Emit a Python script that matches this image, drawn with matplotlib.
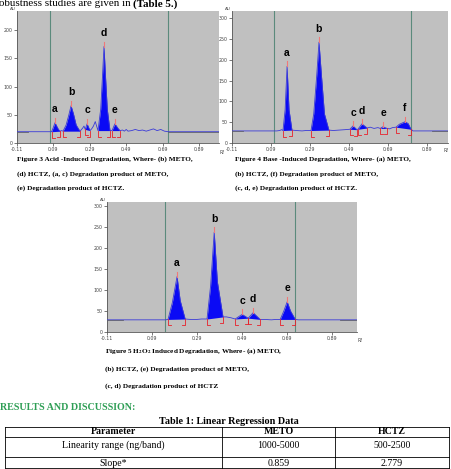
import numpy as np
import matplotlib
matplotlib.use('Agg')
import matplotlib.pyplot as plt

plt.rcParams['mathtext.fontset'] = 'stix'

# ---- data (Rf, AU) ----
x_ticks = [-0.11, 0.09, 0.29, 0.49, 0.69, 0.89]
x_tick_labels = ['-0.11', '0.09', '0.29', '0.49', '0.69', '0.89']

# Figure 3: acid degradation
f3_trace_x = [-0.11, -0.05, 0.07, 0.08, 0.09, 0.099, 0.108, 0.118, 0.127, 0.135, 0.143,
              0.16, 0.175, 0.187, 0.2, 0.215, 0.236, 0.25, 0.258, 0.265, 0.275, 0.291,
              0.3, 0.31, 0.32, 0.335, 0.35, 0.36, 0.368, 0.376, 0.386, 0.401, 0.412,
              0.428, 0.445, 0.456, 0.47, 0.48, 0.49, 0.5, 0.52, 0.54, 0.56, 0.58, 0.6,
              0.62, 0.64, 0.66, 0.68, 0.7, 0.72, 0.92, 1.0]
f3_trace_y = [20, 20, 20, 20, 28, 36, 30, 24, 21, 22, 21,
              32, 50, 66, 52, 32, 21, 26, 30, 24, 34, 22,
              25, 30, 38, 22, 60, 120, 171, 120, 60, 22, 22,
              34, 26, 22, 23, 21, 24, 21, 22, 24, 22, 23, 21,
              23, 25, 22, 24, 21, 20, 20, 20]
f3_labels = ['a', 'b', 'c', 'd', 'e']
f3_apex = [0.099, 0.187, 0.275, 0.368, 0.428]
f3_height = [36, 66, 34, 171, 34]
f3_start = [0.08, 0.143, 0.265, 0.335, 0.412]
f3_end = [0.127, 0.236, 0.291, 0.401, 0.456]
f3_green = [0.071, 0.72]
f3_yticks = [0, 50, 100, 150, 200]

# Figure 4: base degradation
f4_trace_x = [-0.11, -0.053, 0.12, 0.135, 0.145, 0.152, 0.163, 0.173, 0.183, 0.198, 0.22,
              0.25, 0.27, 0.296, 0.31, 0.325, 0.337, 0.35, 0.365, 0.388, 0.41, 0.44,
              0.47, 0.496, 0.512, 0.532, 0.537, 0.558, 0.584, 0.6, 0.62, 0.64, 0.651,
              0.666, 0.687, 0.7, 0.715, 0.733, 0.75, 0.779, 0.795, 0.81, 0.82, 0.92, 1.0]
f4_trace_y = [29, 29, 29, 30, 32, 30, 80, 184, 80, 31, 30,
              29, 30, 30, 70, 160, 242, 160, 70, 31, 30, 31,
              32, 33, 41, 32, 33, 46, 36, 38, 35, 37, 35,
              39, 35, 34, 37, 38, 45, 51, 47, 33, 29, 29, 29]
f4_labels = ['a', 'b', 'c', 'd', 'e', 'f']
f4_apex = [0.173, 0.337, 0.512, 0.558, 0.666, 0.779]
f4_height = [184, 242, 41, 46, 39, 51]
f4_start = [0.152, 0.296, 0.496, 0.537, 0.651, 0.733]
f4_end = [0.198, 0.388, 0.532, 0.584, 0.687, 0.81]
f4_green = [0.106, 0.81]
f4_yticks = [0, 50, 100, 150, 200, 250, 300]

# Figure 5: H2O2 degradation
f5_trace_x = [-0.11, -0.039, 0.15, 0.161, 0.18, 0.201, 0.215, 0.237, 0.26, 0.29, 0.31,
              0.334, 0.35, 0.366, 0.38, 0.405, 0.42, 0.44, 0.459, 0.49, 0.517, 0.539,
              0.57, 0.59, 0.62, 0.64, 0.659, 0.675, 0.69, 0.705, 0.726, 0.74, 0.925, 1.0]
f5_trace_y = [29, 29, 29, 30, 70, 132, 75, 31, 30, 30, 31,
              31, 110, 238, 120, 36, 36, 34, 31, 42, 33, 46,
              30, 30, 29, 30, 30, 50, 72, 50, 30, 29, 29, 29]
f5_labels = ['a', 'b', 'c', 'd', 'e']
f5_apex = [0.201, 0.366, 0.49, 0.539, 0.69]
f5_height = [132, 238, 42, 46, 72]
f5_start = [0.161, 0.334, 0.459, 0.517, 0.659]
f5_end = [0.237, 0.405, 0.517, 0.57, 0.726]
f5_green = [0.148, 0.726]
f5_yticks = [0, 50, 100, 150, 200, 250, 300]

table_header = ['Parameter', 'METO', 'HCTZ']
table_rows = [['Linearity range (ng/band)', '1000-5000', '500-2500'],
              ['Slope*', '0.859', '2.779']]

W, H = 451, 469
SERIF = ['Liberation Serif', 'DejaVu Serif']

fig = plt.figure(figsize=(W / 100, H / 100), dpi=100)
page = fig.add_axes([0, 0, 1, 1])
page.set_xlim(0, W)
page.set_ylim(H, 0)
page.axis('off')


def panel(left, top, right, bottom):
    return fig.add_axes([left / W, 1 - bottom / H, (right - left) / W, (bottom - top) / H])


def draw_chrom(ax, box, tx, ty, labels, apex, height, starts, ends, green, yticks, ymax,
               gray_left, gray_right):
    left, top, right, bottom = box
    ax.set_facecolor('#c0c0c0')
    ax.set_xlim(-0.11, 1.0)
    ax.set_ylim(0, ymax)
    px_x = (right - left) / 1.11
    px_y = (bottom - top) / ymax
    tx = np.array(tx)
    ty = np.array(ty)
    for g in green:
        ax.axvline(g, color='#5b8a7c', lw=0.8, zorder=1)
    # filled peaks
    for s, e in zip(starts, ends):
        m = (tx >= s) & (tx <= e)
        xs, ys = tx[m], ty[m]
        base = np.interp(xs, [xs[0], xs[-1]], [ys[0], ys[-1]])
        ax.fill_between(xs, base, ys, color='#0a0af5', lw=0, zorder=2)
    ax.plot(tx, ty, color='#3a3ad8', lw=0.6, zorder=3)
    m = tx <= gray_left
    ax.plot(tx[m], ty[m], color='#606070', lw=0.6, zorder=3)
    m = tx >= gray_right
    ax.plot(tx[m], ty[m], color='#606070', lw=0.6, zorder=3)
    # red integration marks
    drop = 6 / px_y
    foot = 3 / px_x
    for s, e in zip(starts, ends):
        for p, d in ((s, foot), (e, -foot)):
            yb = np.interp(p, tx, ty)
            ax.plot([p, p, p + d], [yb, yb - drop, yb - drop], color='#e8202a', lw=0.6, zorder=4)
    for lab, a, h in zip(labels, apex, height):
        ax.plot([a, a], [h, h + 5 / px_y], color='#f07878', lw=0.8, zorder=4)
        ax.annotate(lab, (a, h), xytext=(0, 6), textcoords='offset points', ha='center',
                    va='bottom', fontsize=7.5, fontweight='bold', family='Liberation Sans')
    ax.set_xticks(x_ticks, x_tick_labels)
    ax.set_yticks(yticks)
    ax.tick_params(length=2, width=0.5, pad=1, labelsize=3.4, colors='#444444')
    for sp in ('top', 'right'):
        ax.spines[sp].set_visible(False)
    for sp in ('left', 'bottom'):
        ax.spines[sp].set_color('#555555')
        ax.spines[sp].set_linewidth(0.6)
    page.text(left - 4, top - 2, 'AU', fontsize=3, color='#444444', ha='center', va='center')


box3 = (17, 11, 219, 143)
box4 = (232, 11, 448, 143)
box5 = (107, 202, 357, 332)
draw_chrom(panel(*box3), box3, f3_trace_x, f3_trace_y, f3_labels, f3_apex, f3_height,
           f3_start, f3_end, f3_green, f3_yticks, 234, -0.05, 0.72)
draw_chrom(panel(*box4), box4, f4_trace_x, f4_trace_y, f4_labels, f4_apex, f4_height,
           f4_start, f4_end, f4_green, f4_yticks, 317, -0.053, 0.92)
draw_chrom(panel(*box5), box5, f5_trace_x, f5_trace_y, f5_labels, f5_apex, f5_height,
           f5_start, f5_end, f5_green, f5_yticks, 310, -0.039, 0.925)

page.text(219, 153, 'Rf', fontsize=3.4, color='#444444', va='center')
page.text(444, 151, 'Rf', fontsize=3.4, color='#444444', va='center')
page.text(357, 340, 'Rf', fontsize=3.4, color='#444444', va='center')

# page text
page.text(-1, 4, 'obustness studies are given in', fontsize=7.9, family=SERIF, va='center')
page.text(133, 4, '(Table 5.)', fontsize=7.9, family=SERIF, fontweight='bold', va='center')

cap = dict(fontsize=5.2, family=SERIF, fontweight='bold', va='center')
page.text(17, 159, 'Figure 3 Acid -Induced Degradation, Where- (b) METO,', **cap)
page.text(17, 174, '(d) HCTZ, (a, c) Degradation product of METO,', **cap)
page.text(17, 188, '(e) Degradation product of HCTZ.', **cap)
page.text(235, 159, 'Figure 4 Base -Induced Degradation, Where- (a) METO,', **cap)
page.text(235, 174, '(b) HCTZ, (f) Degradation product of METO,', **cap)
page.text(235, 188, '(c, d, e) Degradation product of HCTZ.', **cap)
page.text(105, 351, r'Figure 5 $\mathbf{H_2O_2}$ Induced Degradation, Where- (a) METO,', **cap)
page.text(105, 369, '(b) HCTZ, (e) Degradation product of METO,', **cap)
page.text(105, 386, '(c, d) Degradation product of HCTZ', **cap)

page.text(0, 408, 'RESULTS AND DISCUSSION:', fontsize=7.2, family=SERIF, fontweight='bold',
          color='#2e9e55', va='center')
page.text(229, 421, 'Table 1: Linear Regression Data', fontsize=7.3, family=SERIF,
          fontweight='bold', ha='center', va='center')

# table grid
col_edges = [5, 222, 335, 449]
row_lines = [427, 437, 457, 468.5]
for y in row_lines:
    page.plot([col_edges[0], col_edges[-1]], [y, y], color='black', lw=0.6)
for x in col_edges:
    page.plot([x, x], [row_lines[0], row_lines[-1]], color='black', lw=0.6)
centers = [(col_edges[i] + col_edges[i + 1]) / 2 for i in range(3)]
for c, t in zip(centers, table_header):
    page.text(c, 432, t, fontsize=7.1, family=SERIF, fontweight='bold', ha='center', va='center')
for y, row in zip([445, 463], table_rows):
    for c, t in zip(centers, row):
        page.text(c, y, t, fontsize=7.1, family=SERIF, ha='center', va='center')

fig.savefig('out.png', dpi=100)
